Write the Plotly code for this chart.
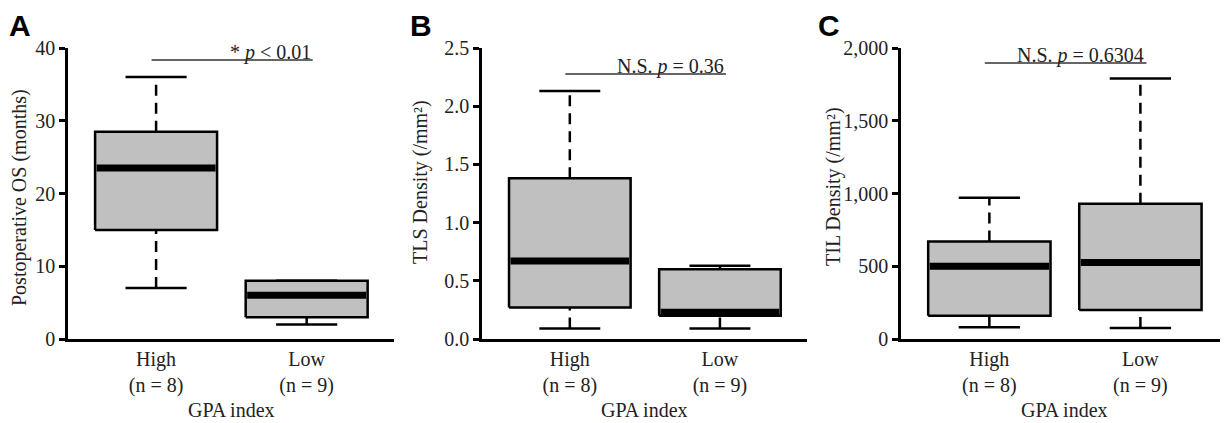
import plotly.graph_objects as go

# ---- data ----
groups = ["High", "Low"]
group_n = ["(n = 8)", "(n = 9)"]
panel_letters = ["A", "B", "C"]
y_titles = ["Postoperative OS (months)", "TLS Density (/mm²)", "TIL Density (/mm²)"]
x_title = "GPA index"

os_min = [7, 2]
os_q1 = [15, 3]
os_med = [23.5, 6]
os_q3 = [28.5, 8]
os_max = [36, 8]

tls_min = [0.09, 0.09]
tls_q1 = [0.27, 0.20]
tls_med = [0.67, 0.23]
tls_q3 = [1.38, 0.60]
tls_max = [2.13, 0.63]

til_min = [80, 75]
til_q1 = [160, 200]
til_med = [500, 525]
til_q3 = [670, 930]
til_max = [970, 1790]

y_ranges = [[0, 40], [0, 2.5], [0, 2000]]
y_dticks = [10, 0.5, 500]
y_tickformats = ["d", ".1f", ",d"]

sig_texts = ["* <i>p</i> < 0.01", "N.S. <i>p</i> = 0.36", "N.S. <i>p</i> = 0.6304"]
sig_y = [38.35, 2.277, 1897]

panels = [
    (os_min, os_q1, os_med, os_q3, os_max),
    (tls_min, tls_q1, tls_med, tls_q3, tls_max),
    (til_min, til_q1, til_med, til_q3, til_max),
]

# ---- layout constants (page has an 8px body margin) ----
OFF = 8
W, H = 1228 - OFF, 423 - OFF
x_px = [(68, 394), (482, 807), (901, 1236)]
y_top_px, y_bot_px = 48, 339
letter_px = [8, 409, 817]
ytitle_px = [(20, 198), (420, 182), (833, 187)]
xtitle_y_px = 410
FONT = "Liberation Serif, Times New Roman, serif"
TXT = "#222222"
BOX_HALF = 0.405
CAP_HALF = 0.203
X_RANGE = [-0.585, 1.58]
SIG_X = [-0.03, 1.04]


def px_x(v):
    return (v - OFF) / W


def px_y(v):
    return 1 - (v - OFF) / H


fig = go.Figure()
layout_axes = {}

for p, (mn, q1, md, q3, mx) in enumerate(panels):
    xa = "x" if p == 0 else f"x{p+1}"
    ya = "y" if p == 0 else f"y{p+1}"
    for i in range(len(groups)):
        c = i
        # box
        fig.add_trace(go.Scatter(
            x=[c - BOX_HALF, c + BOX_HALF, c + BOX_HALF, c - BOX_HALF, c - BOX_HALF],
            y=[q1[i], q1[i], q3[i], q3[i], q1[i]],
            fill="toself", fillcolor="#c0c0c0", mode="lines",
            line=dict(color="black", width=2.5), xaxis=xa, yaxis=ya,
            showlegend=False, hoverinfo="skip"))
        # whiskers (dashed)
        for a, b in [(q3[i], mx[i]), (mn[i], q1[i])]:
            if b > a:
                fig.add_trace(go.Scatter(
                    x=[c, c], y=[a, b], mode="lines",
                    line=dict(color="black", width=2.5, dash="11px,7px"),
                    xaxis=xa, yaxis=ya, showlegend=False, hoverinfo="skip"))
        # caps
        for v in [mn[i], mx[i]]:
            fig.add_trace(go.Scatter(
                x=[c - CAP_HALF, c + CAP_HALF], y=[v, v], mode="lines",
                line=dict(color="black", width=2.5),
                xaxis=xa, yaxis=ya, showlegend=False, hoverinfo="skip"))
        # median
        fig.add_trace(go.Scatter(
            x=[c - BOX_HALF + 0.01, c + BOX_HALF - 0.01], y=[md[i], md[i]], mode="lines",
            line=dict(color="black", width=7),
            xaxis=xa, yaxis=ya, showlegend=False, hoverinfo="skip"))
    # significance line
    fig.add_trace(go.Scatter(
        x=SIG_X, y=[sig_y[p], sig_y[p]], mode="lines",
        line=dict(color="#333333", width=1.5),
        xaxis=xa, yaxis=ya, showlegend=False, hoverinfo="skip"))
    fig.add_annotation(
        x=SIG_X[1], y=sig_y[p], xref=xa, yref=ya, text=sig_texts[p],
        showarrow=False, xanchor="right", yanchor="bottom", yshift=-6,
        font=dict(family=FONT, size=20, color=TXT))

    x0, x1 = x_px[p]
    dom_x = [px_x(x0), min(px_x(x1), 1.0)]
    dom_y = [px_y(y_bot_px), px_y(y_top_px)]
    key = "" if p == 0 else str(p + 1)
    layout_axes[f"xaxis{key}"] = dict(
        domain=dom_x, range=X_RANGE, tickvals=[0, 1],
        ticktext=[f"{g}<br>{n}" for g, n in zip(groups, group_n)],
        showline=True, linecolor="black", linewidth=2.5, ticks="",
        showgrid=False, zeroline=False, anchor=ya, automargin=False,
        tickfont=dict(family=FONT, size=20, color=TXT),
    )
    layout_axes[f"yaxis{key}"] = dict(
        domain=dom_y, range=y_ranges[p], dtick=y_dticks[p], tickformat=y_tickformats[p],
        showline=True, linecolor="black", linewidth=2.5, ticks="outside",
        ticklen=6, tickwidth=2.5, tickcolor="black",
        showgrid=False, zeroline=False, anchor=xa, automargin=False,
        tickfont=dict(family=FONT, size=20, color=TXT),
    )
    # x-axis title
    fig.add_annotation(
        x=(dom_x[0] + px_x(x1)) / 2 if p < 2 else (px_x(x0) + px_x(1228)) / 2,
        y=px_y(xtitle_y_px), xref="paper", yref="paper", text=x_title,
        showarrow=False, xanchor="center", yanchor="middle",
        font=dict(family=FONT, size=20, color=TXT))
    # y-axis title
    tx, ty = ytitle_px[p]
    fig.add_annotation(
        x=px_x(tx), y=px_y(ty), xref="paper", yref="paper", text=y_titles[p],
        textangle=-90, showarrow=False, xanchor="center", yanchor="middle",
        borderpad=0, font=dict(family=FONT, size=20, color=TXT))
    # panel letter
    fig.add_annotation(
        x=px_x(letter_px[p]) if p > 0 else 0, y=1, xref="paper", yref="paper",
        text=f"<b>{panel_letters[p]}</b>", borderpad=0,
        showarrow=False, xanchor="left", yanchor="top",
        font=dict(family="Liberation Sans, Arial, sans-serif", size=30, color="black"))

fig.update_layout(
    width=W, height=H, margin=dict(l=0, r=0, t=0, b=0, autoexpand=False),
    paper_bgcolor="white", plot_bgcolor="white",
    **layout_axes,
)

fig.write_html("out.html")
